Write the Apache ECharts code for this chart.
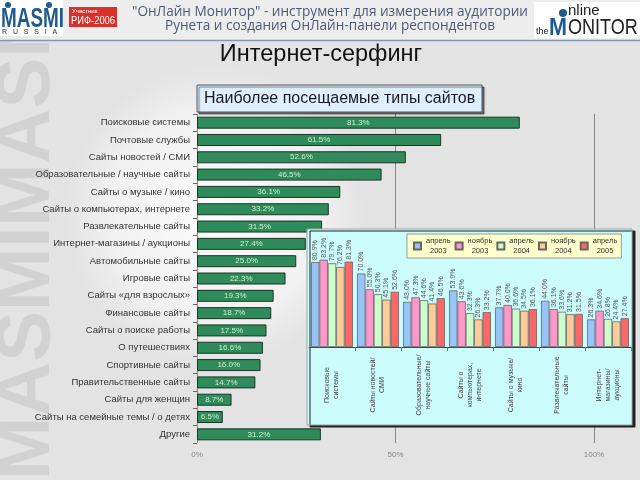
<!DOCTYPE html>
<html><head><meta charset="utf-8">
<script src="https://cdn.jsdelivr.net/npm/echarts@6/dist/echarts.min.js"></script>
<style>html,body{margin:0;padding:0;background:#e3e3e3}#c{width:640px;height:480px}</style>
</head><body><div id="c"></div>
<script>
const categories = ['Поисковые системы','Почтовые службы','Сайты новостей / СМИ','Образовательные / научные сайты','Сайты о музыке / кино','Сайты о компьютерах, интернете','Развлекательные сайты','Интернет-магазины / аукционы','Автомобильные сайты','Игровые сайты','Сайты «для взрослых»','Финансовые сайты','Сайты о поиске работы','О путешествиях','Спортивные сайты','Правительственные сайты','Сайты для женщин','Сайты на семейные темы / о детях','Другие'];
const values = [81.3,61.5,52.6,46.5,36.1,33.2,31.5,27.4,25.0,22.3,19.3,18.7,17.5,16.6,16.0,14.7,8.7,6.5,31.2];
const groupLabels = ['Поисковые\nсистемы','Сайты новостей/\nСМИ','Образовательные/\nнаучные сайты','Сайты о\nкомпьютерах,\nинтернете','Сайты о музыке/\nкино','Развлекательные\nсайты','Интернет-\nмагазины/\nаукционы'];
const periods = ['апрель 2003','ноябрь 2003','апрель 2004','ноябрь 2004','апрель 2005'];
const apr2003 = [80.9,70.0,43.0,53.9,37.7,44.0,26.3];
const nov2003 = [83.2,55.0,47.3,43.6,40.0,36.1,34.6];
const apr2004 = [79.7,50.3,44.6,32.3,36.6,33.6,26.8];
const nov2004 = [76.2,45.1,41.4,26.3,34.5,31.2,24.4];
const apr2005 = [81.3,52.6,46.5,33.2,36.1,31.5,27.4];
const periodColors = ['#99c4f6','#ff99cc','#ccffcc','#ffcc99','#ff6666'];

const chart = echarts.init(document.getElementById('c'));
const F = 'Liberation Sans, Arial, sans-serif';
const insetSeries = [apr2003,nov2003,apr2004,nov2004,apr2005].map((d,i)=>({
  name: periods[i], type:'bar', xAxisIndex:1, yAxisIndex:1, data:d, z:5,
  barGap:'0%', barCategoryGap:'9%',
  itemStyle:{color:periodColors[i], borderColor:'#666', borderWidth:0.8},
  label:{show:true, position:'top', rotate:90, align:'left', verticalAlign:'middle', distance:2,
    fontSize:7, color:'#555', fontFamily:F, formatter:p=>p.value.toFixed(1)+'%'}
}));

chart.setOption({
  backgroundColor:'#e3e3e3',
  animation:false,
  graphic:[
    {type:'ellipse', z:0, shape:{cx:215,cy:215,rx:150,ry:150}, style:{fill:{type:'radial',x:0.5,y:0.5,r:0.5,colorStops:[{offset:0,color:'rgba(255,255,255,0.85)'},{offset:0.7,color:'rgba(255,255,255,0.5)'},{offset:1,color:'rgba(255,255,255,0)'}]}}},
    {type:'text', z:0, x:66, y:480, rotation:Math.PI/2, style:{text:'MASMIMASMI', font:'bold 76px '+F, fill:'#d2d2d2', textAlign:'left', textVerticalAlign:'bottom'}},
    {type:'rect', z:1, shape:{x:0,y:0,width:640,height:40}, style:{fill:'#ededed'}},
    {type:'line', z:1, shape:{x1:0,y1:40.5,x2:640,y2:40.5}, style:{stroke:'#7f97b5', lineWidth:1.5}},
    // MASMI logo
    {type:'rect', z:1, shape:{x:0,y:0,width:63,height:36}, style:{fill:'#ffffff'}},
    {type:'text', z:1, x:1, y:6, scaleX:0.7, style:{text:'MASMI', font:'bold 27px '+F, fill:'#1f5b8c'}},
    {type:'circle', z:1, shape:{cx:8,cy:5,r:3}, style:{fill:'#1f5b8c'}},
    {type:'circle', z:1, shape:{cx:49,cy:5,r:3}, style:{fill:'#1f5b8c'}},
    {type:'text', z:1, x:2, y:29, style:{text:'R   U   S   S   I   A', font:'7px '+F, fill:'#333'}},
    {type:'rect', z:1, shape:{x:69,y:7,width:48,height:20}, style:{fill:'#d9302c'}},
    {type:'text', z:1, x:72, y:8, style:{text:'Участник', font:'6px '+F, fill:'#fff'}},
    {type:'text', z:1, x:71, y:15, scaleX:0.85, style:{text:'РИФ-2006', font:'11px '+F, fill:'#fff'}},
    // header text
    {type:'text', z:1, x:330, y:12, style:{text:'"ОнЛайн Монитор" - инструмент для измерения аудитории', font:'13.6px Open Sans, sans-serif', fill:'#4b5a78', textAlign:'center', textVerticalAlign:'middle'}},
    {type:'text', z:1, x:330, y:26, style:{text:'Рунета и создания ОнЛайн-панели респондентов', font:'13.6px Open Sans, sans-serif', fill:'#4b5a78', textAlign:'center', textVerticalAlign:'middle'}},
    // online monitor logo
    {type:'rect', z:1, shape:{x:534,y:2,width:106,height:36}, style:{fill:'#ffffff'}},
    {type:'circle', z:1, shape:{cx:563,cy:13,r:4}, style:{fill:'#1f5b8c'}},
    {type:'text', z:1, x:568, y:3, style:{text:'nline', font:'15px '+F, fill:'#222'}},
    {type:'text', z:1, x:536, y:27, style:{text:'the', font:'9px '+F, fill:'#222'}},
    {type:'text', z:1, x:549, y:16, scaleX:0.9, style:{text:'M', font:'bold 24px '+F, fill:'#1f5b8c'}},
    {type:'text', z:1, x:568, y:17, scaleX:0.82, style:{text:'ONITOR', font:'22px '+F, fill:'#222'}},
    // title
    {type:'text', z:1, x:321, y:55, style:{text:'Интернет-серфинг', font:'23.5px '+F, fill:'#111', textAlign:'center', textVerticalAlign:'middle'}},
    {type:'rect', z:1, shape:{x:197,y:85,width:285,height:27}, style:{fill:'#def0ff', stroke:'#555', lineWidth:1, shadowColor:'rgba(0,0,0,0.5)', shadowOffsetX:2, shadowOffsetY:2, shadowBlur:1}},
    {type:'text', z:1, x:204, y:98.5, style:{text:'Наиболее посещаемые типы сайтов', font:'16px '+F, fill:'#1a1a1a', textVerticalAlign:'middle'}},
    // inset box
    {type:'rect', z:3, shape:{x:307,y:229,width:325,height:196}, style:{fill:'#cdfcfc', stroke:'#9aa', lineWidth:1, shadowColor:'#222', shadowOffsetX:3, shadowOffsetY:2, shadowBlur:0}}
  ],
  grid:[
    {left:197, top:114, width:397, height:329},
    {left:309, top:242, width:322, height:105, z:4}
  ],
  xAxis:[
    {gridIndex:0, type:'value', min:0, max:100, interval:50,
     axisLine:{show:false}, axisTick:{show:false},
     splitLine:{show:true, lineStyle:{color:'#888', width:1}},
     axisLabel:{formatter:'{value}%', fontSize:8, color:'#888', margin:8, fontFamily:F}},
    {gridIndex:1, type:'category', data:groupLabels, z:5,
     axisLine:{show:true, lineStyle:{color:'#444', width:1}},
     axisTick:{show:true, length:4, lineStyle:{color:'#777'}},
     axisLabel:{interval:0, rotate:90, align:'center', verticalAlign:'middle', margin:38, fontSize:7, lineHeight:9, color:'#444', fontFamily:F}}
  ],
  yAxis:[
    {gridIndex:0, type:'category', inverse:true, data:categories,
     axisLine:{show:false}, axisTick:{show:true, length:4, lineStyle:{color:'#666'}},
     axisLabel:{fontSize:9.5, color:'#333', margin:7, fontFamily:F}},
    {gridIndex:1, type:'value', min:0, max:100, show:false, z:5}
  ],
  legend:{data:periods, left:407, top:234, z:6, orient:'horizontal', width:400,
    backgroundColor:'#ffffcc', borderColor:'#999', borderWidth:1, padding:[3,4,3,6],
    itemWidth:7, itemHeight:7, itemGap:4, icon:'rect',
    formatter:n=>n.split(' ').map(s=>'{c|'+s+'}').join('\n'),
    textStyle:{fontSize:7.5, color:'#333', fontFamily:F, rich:{c:{fontSize:7.5, align:'center', color:'#333', lineHeight:10}}}},
  series:[
    {type:'bar', xAxisIndex:0, yAxisIndex:0, data:values, barWidth:12, z:2,
     itemStyle:{color:'#2f8c5a', borderColor:'#1b3328', borderWidth:1},
     label:{show:true, position:'inside', fontSize:8, color:'#c9f3cd', fontFamily:F, formatter:p=>p.value.toFixed(1)+'%'}},
    ...insetSeries
  ]
});
</script></body></html>
